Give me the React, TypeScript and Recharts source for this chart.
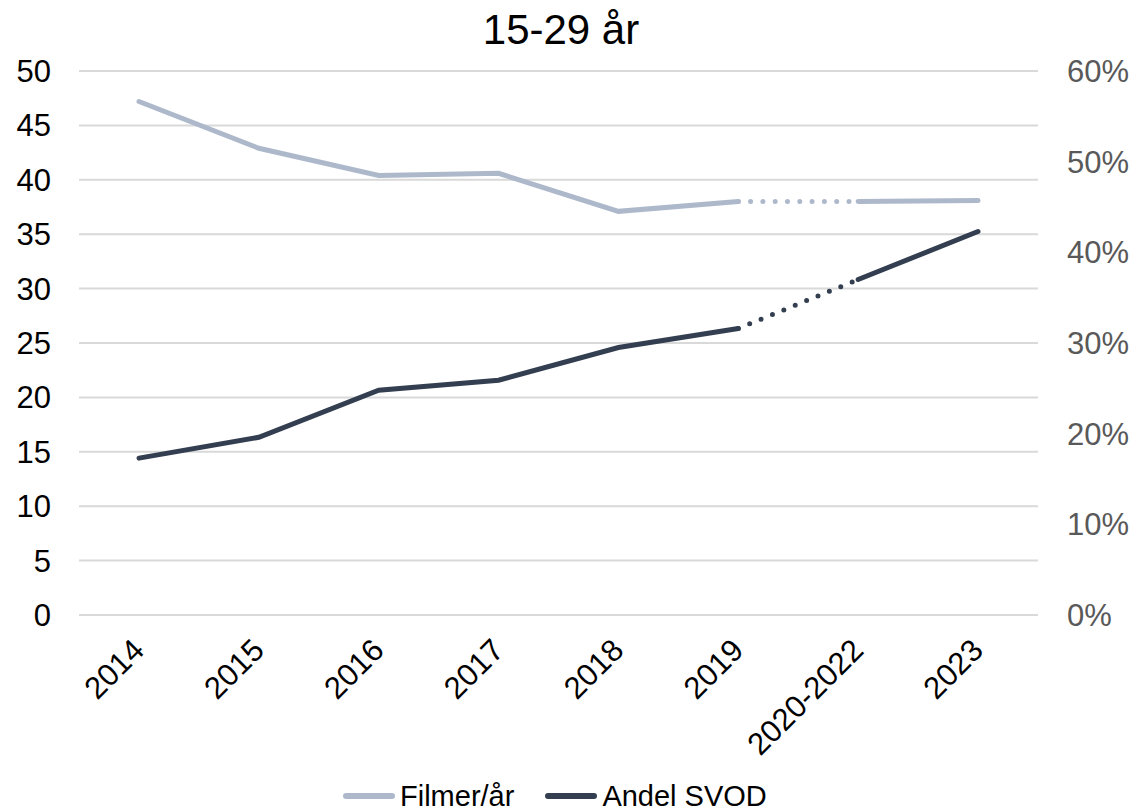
import { LineChart, Line, XAxis, YAxis, CartesianGrid } from 'recharts';

const CATEGORIES = ['2014', '2015', '2016', '2017', '2018', '2019', '2020-2022', '2023'];
// Filmer/år (left axis)
const FILMER = [47.2, 42.9, 40.4, 40.6, 37.1, 38.0, 38.0, 38.1];
// Andel SVOD in % (right axis)
const ANDEL = [17.3, 19.6, 24.8, 25.9, 29.5, 31.6, 37.0, 42.3];
// the 2019 -> 2020-2022 step is drawn dotted
const GAP_FROM = 5;
const GAP_TO = 6;

const LEFT_TICKS = [0, 5, 10, 15, 20, 25, 30, 35, 40, 45, 50];
const RIGHT_TICKS = [0, 10, 20, 30, 40, 50, 60];

const LIGHT = '#adb9cb';
const DARK = '#333f50';
const FONT = '"Liberation Sans", Arial, sans-serif';

const data = CATEGORIES.map((name, i) => ({
  name,
  filmerA: i <= GAP_FROM ? FILMER[i] : null,
  filmerB: i >= GAP_TO ? FILMER[i] : null,
  filmerDot: i === GAP_FROM || i === GAP_TO ? FILMER[i] : null,
  andelA: i <= GAP_FROM ? ANDEL[i] : null,
  andelB: i >= GAP_TO ? ANDEL[i] : null,
  andelDot: i === GAP_FROM || i === GAP_TO ? ANDEL[i] : null,
}));

function XTick({ x, y, payload }: { x?: number; y?: number; payload?: { value: string } }) {
  return (
    <text
      transform={`translate(${(x ?? 0) + 7},${(y ?? 0) + 37}) rotate(-45)`}
      textAnchor="end"
      fill="#000"
      fontSize={31}
      fontFamily={FONT}
    >
      {payload?.value}
    </text>
  );
}

function LegendItem({ color, label }: { color: string; label: string }) {
  return (
    <div style={{ display: 'flex', alignItems: 'center' }}>
      <span
        style={{ display: 'inline-block', width: 52, height: 6, borderRadius: 3, background: color, marginRight: 5 }}
      />
      <span>{label}</span>
    </div>
  );
}

export default function App() {
  const lineCommon = {
    isAnimationActive: false,
    dot: false,
    activeDot: false,
    strokeWidth: 5,
    strokeLinecap: 'round' as const,
    connectNulls: false,
    type: 'linear' as const,
  };
  return (
    <div style={{ position: 'absolute', left: 0, top: 0, width: 1135, height: 812, background: '#fff', fontFamily: FONT }}>
      <div
        style={{
          position: 'absolute',
          left: 0,
          width: 1122,
          top: 6,
          textAlign: 'center',
          fontSize: 42,
          lineHeight: '48px',
          color: '#000',
        }}
      >
        15-29 år
      </div>
      <LineChart
        width={1135}
        height={812}
        data={data}
        margin={{ top: 71, right: 0, bottom: 0, left: 0 }}
      >
        <CartesianGrid yAxisId="left" vertical={false} stroke="#d9d9d9" strokeWidth={2} />
        <XAxis
          dataKey="name"
          axisLine={false}
          tickLine={false}
          tickSize={0}
          tickMargin={0}
          height={197}
          interval={0}
          padding={{ left: 60, right: 60 }}
          tick={<XTick />}
        />
        <YAxis
          yAxisId="left"
          domain={[0, 50]}
          ticks={LEFT_TICKS}
          axisLine={false}
          tickLine={false}
          tickSize={0}
          tickMargin={28}
          width={79}
          tick={{ fill: '#000', fontSize: 31, fontFamily: FONT }}
        />
        <YAxis
          yAxisId="right"
          orientation="right"
          domain={[0, 60]}
          ticks={RIGHT_TICKS}
          axisLine={false}
          tickLine={false}
          tickSize={0}
          tickMargin={29}
          width={97}
          tickFormatter={(v: number) => `${v}%`}
          tick={{ fill: '#595959', fontSize: 31, fontFamily: FONT, textAnchor: 'start' }}
        />
        <Line {...lineCommon} yAxisId="left" dataKey="filmerA" name="Filmer/år" stroke={LIGHT} />
        <Line {...lineCommon} yAxisId="left" dataKey="filmerB" legendType="none" stroke={LIGHT} />
        <Line
          {...lineCommon}
          yAxisId="left"
          dataKey="filmerDot"
          legendType="none"
          stroke={LIGHT}
          strokeDasharray="0 12.3"
        />
        <Line {...lineCommon} yAxisId="right" dataKey="andelA" name="Andel SVOD" stroke={DARK} />
        <Line {...lineCommon} yAxisId="right" dataKey="andelB" legendType="none" stroke={DARK} />
        <Line
          {...lineCommon}
          yAxisId="right"
          dataKey="andelDot"
          legendType="none"
          stroke={DARK}
          strokeDasharray="0 12.3"
        />
      </LineChart>
      <div
        style={{
          position: 'absolute',
          left: 343,
          top: 779,
          display: 'flex',
          gap: 31,
          fontSize: 29,
          lineHeight: '34px',
          color: '#000',
        }}
      >
        <LegendItem color={LIGHT} label="Filmer/år" />
        <LegendItem color={DARK} label="Andel SVOD" />
      </div>
    </div>
  );
}
